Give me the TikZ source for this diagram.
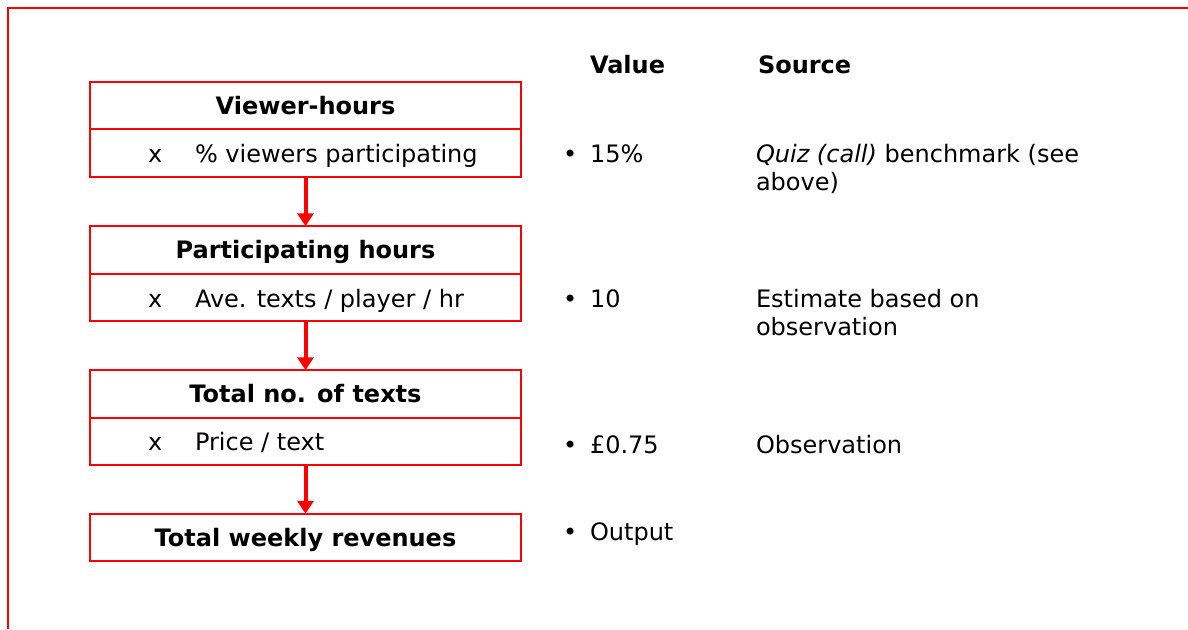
\documentclass[tikz,border=0pt]{standalone}
\usepackage{fontspec}
\setmainfont{DejaVu Sans}
\usetikzlibrary{arrows.meta}
\begin{document}
\begin{tikzpicture}[x=1pt,y=-1pt,
  every node/.style={font=\fontsize{24}{29}\selectfont, inner sep=0pt, outer sep=0pt},
  box/.style={draw=red, line width=2pt, minimum width=431pt, minimum height=47.5pt, text height=17.4pt, text depth=0pt, anchor=center},
  hdr/.style={box, font=\fontsize{24}{29}\selectfont\bfseries},
  lbl/.style={anchor=base west},
  colhead/.style={anchor=base west, font=\fontsize{24}{29}\selectfont\bfseries},
  flow/.style={draw=red, line width=4pt, -{Triangle[width=16pt,length=13pt]}}]
\useasboundingbox (0,0) rectangle (1188,629);
% frame
\draw[red, line width=2pt] (8,629) -- (8,8) -- (1188,8);
% column headers
\node[colhead] (valh) at (590,73) {Value};
\node[colhead] (srch) at (758,73) {Source};
% boxes
\node[hdr] (h1) at (305.5,105.5) {Viewer-hours};
\node[box] (r1) at (305.5,153) {};
\node[hdr] (h2) at (305.5,250) {Participating hours};
\node[box] (r2) at (305.5,297.5) {};
\node[hdr] (h3) at (305.5,394) {Total no. of texts};
\node[box] (r3) at (305.5,441.5) {};
\node[hdr] (h4) at (305.5,537.5) {Total weekly revenues};
% row texts
\node[lbl] (x1) at (148,162) {x};
\node[lbl] (t1) at (195,162) {\% viewers participating};
\node[lbl] (x2) at (148,307) {x};
\node[lbl] (t2) at (195,307) {Ave. texts / player / hr};
\node[lbl] (x3) at (148,450) {x};
\node[lbl] (t3) at (195,450) {Price / text};
% arrows
\draw[flow] (r1.south) -- (h2.north);
\draw[flow] (r2.south) -- (h3.north);
\draw[flow] (r3.south) -- (h4.north);
% values
\node[lbl] (b1) at (563,162) {•};
\node[lbl] (v1) at (590,162) {15\%};
\node[lbl] (b2) at (563,307) {•};
\node[lbl] (v2) at (590,307) {10};
\node[lbl] (b3) at (563,453) {•};
\node[lbl] (v3) at (590,453) {£0.75};
\node[lbl] (b4) at (563,540) {•};
\node[lbl] (v4) at (590,540) {Output};
% sources
\node[lbl] (s1) at (756,162) {\textit{Quiz (call)} benchmark (see};
\node[lbl] (s1b) at (756,190) {above)};
\node[lbl] (s2) at (756,307) {Estimate based on};
\node[lbl] (s2b) at (756,335) {observation};
\node[lbl] (s3) at (756,453) {Observation};
\end{tikzpicture}
\end{document}
